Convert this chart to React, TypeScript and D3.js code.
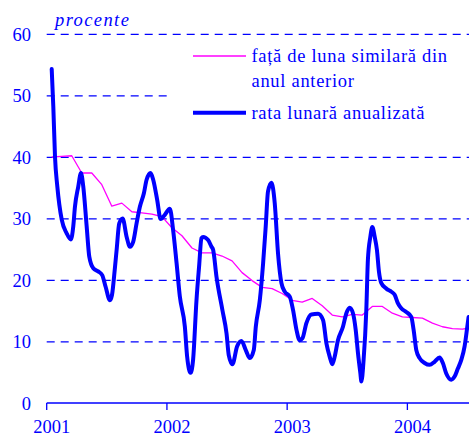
import React from "react";
import * as d3 from "d3";

// Month index 0 = January 2001 (value plotted at month centre)
const yoyValues = [
  40.0, 40.1, 40.2, 37.4, 37.4, 35.5, 32.0, 32.5, 31.1, 30.9, 30.7, 30.3,
  28.5, 27.2, 25.2, 24.4, 24.4, 23.9, 23.1, 21.2, 19.9, 18.8, 18.6, 17.8,
  16.7, 16.4, 17.0, 15.8, 14.3, 14.0, 14.4, 14.3, 15.7, 15.7, 14.6, 14.0,
  13.9, 13.8, 13.0, 12.4, 12.1, 12.0, 12.3,
];

// Annualised monthly rate: time in months since start of 2001, value in %
const rateT = [
  0.5, 0.66, 0.83, 1.06, 1.5, 1.99, 2.42, 2.65, 2.82, 3.15, 3.42, 3.65, 3.99,
  4.25, 4.65, 5.14, 5.54, 5.88, 6.31, 6.51, 6.81, 6.98, 7.24, 7.58, 7.98, 8.31,
  8.63, 8.97, 9.3, 9.7, 9.97, 10.37, 10.63, 11.03, 11.37, 11.79, 12.29, 12.62,
  12.96, 13.29, 13.79, 14.02, 14.36, 14.61, 14.95, 15.21, 15.45, 15.61, 16.11,
  16.45, 16.61, 16.95, 17.55, 17.95, 18.17, 18.54, 19.0, 19.44, 19.87, 20.27,
  20.67, 20.87, 21.27, 21.6, 21.86, 22.09, 22.43, 22.76, 23.09, 23.43, 23.76,
  24.26, 24.59, 24.93, 25.25, 25.52, 25.92, 26.42, 27.08, 27.58, 27.92, 28.25,
  28.51, 28.74, 29.07, 29.57, 29.91, 30.24, 30.57, 30.84, 31.07, 31.31, 31.41,
  31.63, 31.9, 32.06, 32.3, 32.5, 32.74, 32.96, 33.16, 33.4, 33.9, 34.4, 34.73,
  35.06, 35.39, 35.89, 36.39, 36.62, 36.89, 37.22, 37.72, 38.22, 38.71, 39.21,
  39.54, 39.88, 40.38, 40.71, 41.04, 41.38, 41.71, 41.94, 42.11,
];
const rateV = [
  54.3, 48.2, 40.0, 35.2, 29.8, 27.6, 26.6, 28.7, 31.9, 35.2, 37.4, 35.2, 28.7,
  23.8, 21.9, 21.4, 20.8, 18.9, 16.7, 17.5, 22.0, 24.9, 29.2, 30.0, 27.0, 25.4,
  26.2, 29.2, 31.9, 34.1, 36.3, 37.4, 36.3, 33.0, 29.9, 30.6, 31.6, 28.1,
  22.8, 17.3, 12.4, 7.5, 4.9, 7.0, 16.7, 22.2, 26.8, 27.0, 26.5,
  25.4, 24.9, 20.5, 15.0, 11.3, 7.8, 6.3, 9.2, 10.1, 8.6, 7.3,
  8.6, 12.4, 16.7, 22.7, 28.7, 34.4, 35.8, 32.5, 24.3, 19.5, 18.1,
  17.3, 15.1, 11.9, 10.2, 10.5, 13.0, 14.4, 14.5, 13.5, 9.7, 7.5,
  6.3, 7.5, 10.2, 12.4, 14.6, 15.5, 14.6, 11.9, 8.1, 4.8, 3.5,
  7.0, 15.1, 23.3, 27.0, 28.6, 27.0, 24.9, 21.4, 19.5, 18.6, 18.1, 17.6,
  16.2, 15.4, 14.8, 14.0, 11.9, 8.6, 7.3, 6.5, 6.2, 6.7, 7.4,
  6.5, 4.8, 3.8, 4.3, 5.6, 7.0, 9.2, 11.9, 14.0,
];

const yTicks = [0, 10, 20, 30, 40, 50, 60];
const yearLabels = ["2001", "2002", "2003", "2004"];
const legendLabels = ["față de luna similară din", "anul anterior", "rata lunară anualizată"];
const unitLabel = "procente";

const W = 469;
const H = 436;
const BLUE = "#0000FF";
const MAGENTA = "#FF00FF";
const FONT = '"Liberation Serif", "Times New Roman", Times, serif';

export default function App() {
  const x = d3.scaleLinear().domain([0, 42.15]).range([46.7, W]);
  const y = d3.scaleLinear().domain([0, 60]).range([403, 34]);

  const yoyLine = d3
    .line<number>()
    .x((_, i) => x(i + 0.5))
    .y((d) => y(d))(yoyValues) as string;

  const ratePts = rateT.map((t, i) => [t, rateV[i]] as [number, number]);
  const rateLine = d3
    .line<[number, number]>()
    .x((d) => x(d[0]))
    .y((d) => y(d[1]))
    .curve(d3.curveMonotoneX)(ratePts) as string;

  const x0 = x(0);
  const legX = 172;
  const txt = { fontFamily: FONT };

  return (
    <svg
      width={W}
      height={H}
      style={{ position: "absolute", left: 0, top: 0, background: "#fff", fontFamily: FONT }}
    >
      {/* grid lines */}
      {yTicks
        .filter((t) => t > 0)
        .map((t) => (
          <line
            key={t}
            x1={x0}
            x2={W}
            y1={y(t) + 0.3}
            y2={y(t) + 0.3}
            stroke={BLUE}
            strokeWidth={1.2}
            strokeDasharray="8,6"
          />
        ))}
      {/* y tick labels */}
      {yTicks.map((t) => (
        <text
          key={t}
          x={31}
          y={y(t) + 6.5}
          textAnchor="end"
          fontSize={18.5}
          fill={BLUE}
          style={txt}
        >
          {t}
        </text>
      ))}
      <text
        x={55}
        y={26}
        fontSize={18.5}
        fontStyle="italic"
        letterSpacing={1.4}
        fill={BLUE}
        style={txt}
      >
        {unitLabel}
      </text>
      {/* x axis */}
      <line x1={x0} x2={W} y1={y(0)} y2={y(0)} stroke={BLUE} strokeWidth={1.3} />
      {yearLabels.map((lab, i) => (
        <g key={lab}>
          <line
            x1={x(i * 12)}
            x2={x(i * 12)}
            y1={y(0)}
            y2={y(0) + 7}
            stroke={BLUE}
            strokeWidth={1.3}
          />
          <text
            x={x(i * 12 + 0.5)}
            y={433}
            textAnchor="middle"
            fontSize={18.5}
            fill={BLUE}
            style={txt}
          >
            {lab}
          </text>
        </g>
      ))}
      {/* legend box */}
      <rect x={legX} y={41} width={W - legX} height={108} fill="#fff" />
      <line x1={193} x2={246} y1={56} y2={56} stroke={MAGENTA} strokeWidth={1.3} />
      <text x={251.5} y={61.5} fontSize={18.5} letterSpacing={0.7} fill={BLUE} style={txt}>
        {legendLabels[0]}
      </text>
      <text x={251.5} y={86.5} fontSize={18.5} letterSpacing={0.7} fill={BLUE} style={txt}>
        {legendLabels[1]}
      </text>
      <line x1={193} x2={246} y1={112.7} y2={112.7} stroke={BLUE} strokeWidth={4} />
      <text x={251.5} y={119} fontSize={18.5} letterSpacing={0.7} fill={BLUE} style={txt}>
        {legendLabels[2]}
      </text>
      {/* series */}
      <path d={yoyLine} fill="none" stroke={MAGENTA} strokeWidth={1.3} strokeLinejoin="round" />
      <path
        d={rateLine}
        fill="none"
        stroke={BLUE}
        strokeWidth={4}
        strokeLinejoin="round"
        strokeLinecap="round"
      />
    </svg>
  );
}
